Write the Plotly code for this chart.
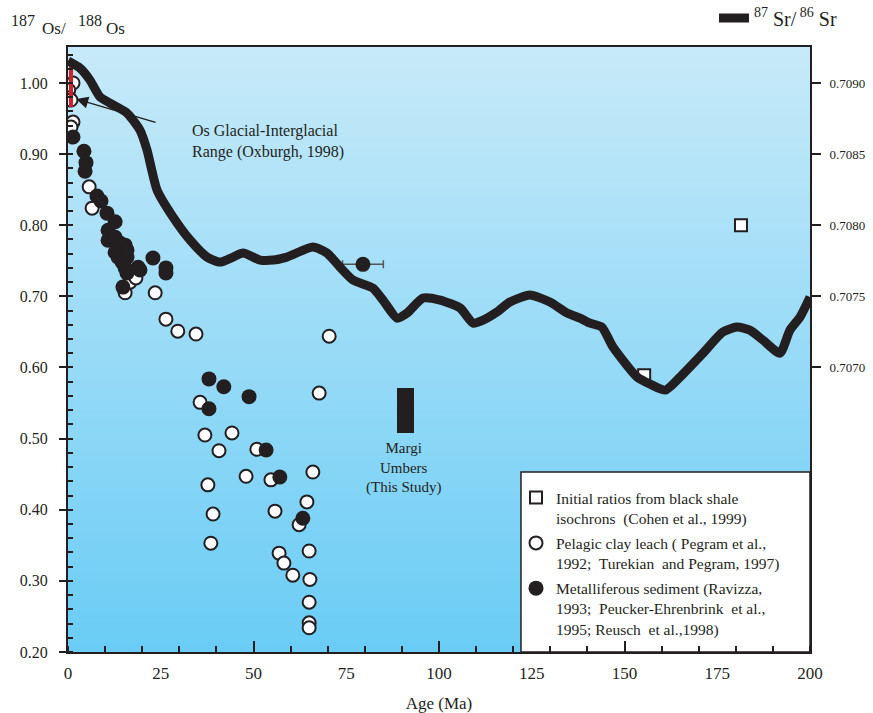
import plotly.graph_objects as go

# ---------------- data ----------------
sr_age = [0.0, 3.2, 5.9, 8.6, 11.3, 15.9, 19.4, 21.3, 24.0, 28.3, 32.9, 37.5, 41.0, 44.5, 47.2,
          51.8, 55.3, 59.0, 66.0, 69.8, 73.3, 76.8, 82.2, 84.9, 88.7, 91.4, 95.7, 100.3, 105.7,
          109.2, 111.9, 115.6, 119.1, 124.5, 129.9, 134.5, 138.0, 140.7, 143.9, 146.9, 153.4,
          156.9, 161.0, 165.0, 171.2, 176.5, 180.3, 183.8, 187.3, 191.9, 194.6, 197.3, 200.0]
sr_val = [0.709155, 0.709105, 0.709021, 0.708902, 0.708859, 0.708789, 0.708669, 0.708529,
          0.708248, 0.708058, 0.707896, 0.707776, 0.707741, 0.707776, 0.707805, 0.707755,
          0.707755, 0.707776, 0.707847, 0.707805, 0.707706, 0.707615, 0.707558, 0.707474,
          0.707347, 0.707383, 0.707488, 0.707474, 0.707418, 0.707312, 0.707333, 0.707390,
          0.707460, 0.707509, 0.707460, 0.707383, 0.707347, 0.707312, 0.707284, 0.707144,
          0.706933, 0.706883, 0.706841, 0.706933, 0.707101, 0.707249, 0.707284, 0.707263,
          0.707193, 0.707101, 0.707263, 0.707354, 0.707495]

shale_age = [155.3, 181.4]
shale_os = [0.589, 0.800]

clay_age = [1.35, 0.2, 0.3, 0.8, 1.35, 0.8, 5.7, 6.5, 15.4, 16.7, 18.3, 23.5, 26.4, 29.6, 34.5,
            70.4, 67.7, 35.6, 36.9, 44.2, 40.7, 50.9, 48.0, 54.7, 66.0, 37.7, 64.4, 55.8, 39.1,
            62.3, 38.5, 56.9, 65.0, 58.2, 60.6, 65.2, 65.0, 65.0, 65.0]
clay_os = [1.000, 0.990, 0.979, 0.976, 0.945, 0.938, 0.854, 0.824, 0.705, 0.720, 0.726, 0.705,
           0.668, 0.651, 0.647, 0.644, 0.564, 0.551, 0.505, 0.508, 0.483, 0.485, 0.447, 0.442,
           0.453, 0.435, 0.411, 0.398, 0.394, 0.379, 0.353, 0.339, 0.342, 0.325, 0.308, 0.302,
           0.270, 0.241, 0.234]

metal_age = [1.35, 4.3, 4.85, 4.6, 7.8, 8.9, 10.5, 12.7, 10.8, 10.8, 12.7, 14.0, 15.4, 15.9, 12.7,
             13.5, 15.9, 14.6, 15.4, 15.9, 18.9, 19.4, 22.9, 26.4, 26.4, 14.8, 38.0, 42.0, 48.8,
             38.0, 53.4, 57.1, 63.3]
metal_os = [0.924, 0.904, 0.888, 0.876, 0.841, 0.834, 0.817, 0.805, 0.793, 0.779, 0.783, 0.775,
            0.772, 0.765, 0.762, 0.755, 0.755, 0.748, 0.740, 0.733, 0.741, 0.737, 0.754, 0.740,
            0.733, 0.713, 0.584, 0.573, 0.559, 0.542, 0.484, 0.446, 0.388]

err_age = [79.5]
err_os = [0.745]
err_half = [5.5]

glacial_age = [0.8, 0.8]
glacial_os = [0.966, 1.030]

margi_age = [91.0]
margi_low = [0.508]
margi_high = [0.571]
margi_width = 4.4

x_ticks = [0, 25, 50, 75, 100, 125, 150, 175, 200]
y_ticks = [0.20, 0.30, 0.40, 0.50, 0.60, 0.70, 0.80, 0.90, 1.00]
y2_ticks = [0.7070, 0.7075, 0.7080, 0.7085, 0.7090]

Y_RANGE = [0.20, 1.0506]
Y2_RANGE = [0.7050, 0.709253]

INK = "#231f20"
FONT = "Liberation Serif"

fig = go.Figure()

# Margi umbers bar
fig.add_trace(go.Bar(x=margi_age, y=[h - l for h, l in zip(margi_high, margi_low)], base=margi_low,
                     width=margi_width, marker=dict(color=INK, line=dict(width=0)),
                     showlegend=False, hoverinfo="skip"))

fig.add_trace(go.Scatter(x=shale_age, y=shale_os, mode="markers",
                         name="Initial ratios from black shale<br>isochrons  (Cohen et al., 1999)",
                         marker=dict(symbol="square", size=12, color="white", line=dict(color=INK, width=2)),
                         legend="legend2"))
fig.add_trace(go.Scatter(x=clay_age, y=clay_os, mode="markers",
                         name="Pelagic clay leach ( Pegram et al.,<br>1992;  Turekian  and Pegram, 1997)",
                         marker=dict(symbol="circle", size=13, color="white", line=dict(color=INK, width=2)),
                         legend="legend2"))
fig.add_trace(go.Scatter(x=metal_age, y=metal_os, mode="markers",
                         name="Metalliferous sediment (Ravizza,<br>1993;  Peucker-Ehrenbrink  et al.,<br>1995; Reusch  et al.,1998)",
                         marker=dict(symbol="circle", size=15, color=INK, line=dict(color=INK, width=0)),
                         legend="legend2", legendgroup="metal"))
fig.add_trace(go.Scatter(x=err_age, y=err_os, mode="markers",
                         error_x=dict(type="data", array=err_half, color="#555555", thickness=1.5, width=4),
                         marker=dict(symbol="circle", size=15, color=INK),
                         showlegend=False, legendgroup="metal"))

# glacial-interglacial range (red)
fig.add_trace(go.Scatter(x=glacial_age, y=glacial_os, mode="lines",
                         line=dict(color="#d0202a", width=4), showlegend=False, hoverinfo="skip"))

# Sr curve on right axis
fig.add_trace(go.Scatter(x=sr_age, y=sr_val, mode="lines", yaxis="y2",
                         name="<sup>87</sup> Sr/<sup> 86</sup> Sr",
                         line=dict(color=INK, width=9, shape="spline", smoothing=0.6),
                         legend="legend"))

# dummy trace for tall tick axis
fig.add_trace(go.Scatter(x=[None], y=[None], xaxis="x2", showlegend=False, hoverinfo="skip"))

# ---------------- background gradient ----------------
shapes = []
N = 60
top = (199, 234, 249)
bot = (106, 204, 245)
for i in range(N):
    t = (i + 0.5) / N
    c = tuple(round(bot[k] + (top[k] - bot[k]) * t) for k in range(3))
    shapes.append(dict(type="rect", xref="paper", yref="paper", x0=0, x1=1,
                       y0=i / N, y1=(i + 1) / N + 0.002, fillcolor="rgb(%d,%d,%d)" % c,
                       line=dict(width=0), layer="below"))
# legend box
shapes.append(dict(type="rect", xref="paper", yref="paper", x0=0.6105, x1=1.0, y0=0, y1=0.2975,
                   fillcolor="white", line=dict(color=INK, width=1.5), layer="below"))

annotations = [
    dict(x=2.2, y=0.9775, ax=24.0, ay=0.944, axref="x", ayref="y", xref="x", yref="y",
         text="", showarrow=True, arrowhead=2, arrowsize=1.6, arrowwidth=1.5, arrowcolor=INK),
    dict(x=32.9, y=0.918, xref="x", yref="y", xanchor="left", yanchor="middle", align="left",
         text="Os Glacial-Interglacial<br>Range (Oxburgh, 1998)", showarrow=False,
         font=dict(family=FONT, size=16, color=INK)),
    dict(x=90.3, y=0.459, xref="x", yref="y", xanchor="center", yanchor="middle", align="center",
         text="Margi<br>Umbers<br>(This Study)", showarrow=False,
         font=dict(family=FONT, size=15, color=INK)),
    # top-left axis label
    dict(x=(9 - 68) / 742, y=(652 - 21) / 605, xref="paper", yref="paper", xanchor="left",
         yanchor="middle", text="187", showarrow=False, font=dict(family=FONT, size=16, color=INK)),
    dict(x=(40 - 68) / 742, y=(652 - 28) / 605, xref="paper", yref="paper", xanchor="left",
         yanchor="middle", text="Os/", showarrow=False, font=dict(family=FONT, size=17, color=INK)),
    dict(x=(76 - 68) / 742, y=(652 - 21) / 605, xref="paper", yref="paper", xanchor="left",
         yanchor="middle", text="188", showarrow=False, font=dict(family=FONT, size=16, color=INK)),
    dict(x=(104 - 68) / 742, y=(652 - 28) / 605, xref="paper", yref="paper", xanchor="left",
         yanchor="middle", text="Os", showarrow=False, font=dict(family=FONT, size=17, color=INK)),
]

fig.update_layout(
    width=873, height=713,
    margin=dict(l=68, r=63, t=47, b=61, autoexpand=False),
    paper_bgcolor="white", plot_bgcolor="white",
    font=dict(family=FONT, color=INK),
    bargap=0,
    shapes=shapes, annotations=annotations,
    xaxis=dict(range=[0, 200], tickvals=x_ticks, ticks="", showline=True, linecolor=INK,
               linewidth=2, mirror=True, showgrid=False, zeroline=False,
               tickfont=dict(size=17), ticklabelstandoff=5, automargin=False,
               minor=dict(dtick=10, tick0=0, ticks="inside", ticklen=6, tickwidth=1.5, tickcolor=INK,
                          showgrid=False),
               title=dict(text="Age (Ma)", font=dict(size=17), standoff=20)),
    xaxis2=dict(range=[0, 200], overlaying="x", side="bottom", anchor="y", tickvals=[0, 50, 100, 150, 200],
                ticks="inside", ticklen=11, tickwidth=1.5, tickcolor=INK, showticklabels=False,
                showgrid=False, zeroline=False, showline=False, automargin=False),
    yaxis=dict(range=Y_RANGE, tickvals=y_ticks, tickformat=".2f", ticks="outside", ticklen=7,
               tickwidth=1.5, tickcolor=INK, showline=True, linecolor=INK, linewidth=2,
               showgrid=False, zeroline=False, tickfont=dict(size=16), ticklabelstandoff=8,
               automargin=False,
               minor=dict(dtick=0.02, tick0=0.2, ticks="inside", ticklen=5, tickwidth=1.5,
                          tickcolor=INK, showgrid=False)),
    yaxis2=dict(range=Y2_RANGE, overlaying="y", side="right", tickvals=y2_ticks, tickformat=".4f",
                ticks="outside", ticklen=9, tickwidth=1.5, tickcolor=INK, showline=True,
                linecolor=INK, linewidth=2, showgrid=False, zeroline=False, automargin=False,
                tickfont=dict(size=13), ticklabelstandoff=6),
    legend=dict(x=(714 - 68) / 742, y=(652 - 18) / 605, xanchor="left", yanchor="middle",
                bgcolor="rgba(0,0,0,0)", font=dict(size=20, color=INK)),
    legend2=dict(x=(516 - 68) / 742, y=(652 - 481) / 605, xanchor="left", yanchor="top",
                 bgcolor="rgba(0,0,0,0)", font=dict(size=15.5, color=INK), valign="top",
                 tracegroupgap=2),
)

fig.write_html("out.html", config={"displayModeBar": False},
               post_script="document.body.style.margin='0px';")
